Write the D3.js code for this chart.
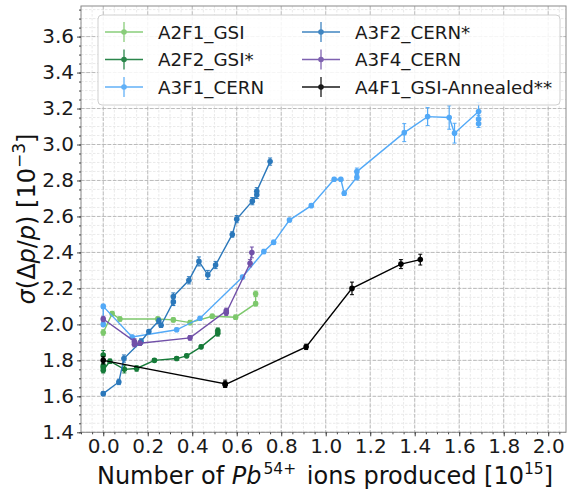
<!DOCTYPE html>
<html><head><meta charset="utf-8">
<script src="https://cdn.jsdelivr.net/npm/d3@7"></script>
<style>
html,body{margin:0;padding:0;background:#fff;}
svg text{font-family:"DejaVu Sans",sans-serif;}
</style></head>
<body>
<svg id="chart" width="567" height="491"></svg>
<script>
// ---------------- data ----------------
const seriesNames = ["A2F1_GSI","A2F2_GSI*","A3F1_CERN","A3F2_CERN*","A3F4_CERN","A4F1_GSI-Annealed**"];

const a2f1X = [0.0, 0.04, 0.075, 0.245, 0.315, 0.39, 0.49, 0.595, 0.685, 0.685];
const a2f1Y = [1.955, 2.06, 2.03, 2.03, 2.025, 2.01, 2.045, 2.04, 2.115, 2.17];
const a2f1E = [0.015, 0.012, 0.012, 0.012, 0.012, 0.012, 0.012, 0.012, 0.012, 0.015];

const a2f2X = [0.0, 0.0, 0.0, 0.0, 0.03, 0.095, 0.15, 0.23, 0.33, 0.375, 0.44, 0.515, 0.515];
const a2f2Y = [1.83, 1.77, 1.76, 1.745, 1.795, 1.75, 1.755, 1.80, 1.81, 1.825, 1.875, 1.95, 1.965];
const a2f2E = [0.025, 0.015, 0.015, 0.015, 0.012, 0.02, 0.015, 0.01, 0.01, 0.01, 0.01, 0.015, 0.015];

const a3f1X = [0.0, 0.0, 0.13, 0.33, 0.435, 0.626, 0.722, 0.766, 0.837, 0.935, 1.038, 1.068, 1.083, 1.14, 1.14, 1.353, 1.458, 1.555, 1.579, 1.687, 1.687, 1.687];
const a3f1Y = [2.0, 2.10, 1.93, 1.97, 2.034, 2.263, 2.405, 2.456, 2.58, 2.66, 2.807, 2.807, 2.729, 2.818, 2.849, 3.066, 3.155, 3.15, 3.063, 3.183, 3.142, 3.115];
const a3f1E = [0.012, 0.012, 0.01, 0.01, 0.01, 0.01, 0.012, 0.012, 0.01, 0.01, 0.01, 0.01, 0.012, 0.015, 0.02, 0.05, 0.05, 0.065, 0.055, 0.05, 0.02, 0.02];

const a3f2X = [0.0, 0.07, 0.093, 0.17, 0.205, 0.25, 0.26, 0.315, 0.315, 0.385, 0.43, 0.47, 0.505, 0.58, 0.60, 0.67, 0.69, 0.69, 0.75];
const a3f2Y = [1.615, 1.68, 1.81, 1.905, 1.96, 2.02, 1.995, 2.125, 2.155, 2.245, 2.35, 2.275, 2.33, 2.50, 2.585, 2.685, 2.72, 2.74, 2.905];
const a3f2E = [0.01, 0.015, 0.02, 0.015, 0.012, 0.015, 0.012, 0.02, 0.02, 0.02, 0.025, 0.025, 0.02, 0.015, 0.02, 0.02, 0.02, 0.02, 0.02];

const a3f4X = [0.0, 0.14, 0.14, 0.165, 0.39, 0.553, 0.553, 0.66, 0.668];
const a3f4Y = [2.03, 1.905, 1.89, 1.895, 1.925, 2.075, 2.065, 2.34, 2.40];
const a3f4E = [0.015, 0.015, 0.015, 0.012, 0.012, 0.015, 0.015, 0.02, 0.03];

const a4f1X = [0.0, 0.548, 0.548, 0.912, 1.118, 1.338, 1.425];
const a4f1Y = [1.80, 1.67, 1.665, 1.875, 2.20, 2.335, 2.36];
const a4f1E = [0.02, 0.02, 0.015, 0.015, 0.035, 0.025, 0.03];

const xMajorTicks = [0.0,0.2,0.4,0.6,0.8,1.0,1.2,1.4,1.6,1.8,2.0];
const yMajorTicks = [1.4,1.6,1.8,2.0,2.2,2.4,2.6,2.8,3.0,3.2,3.4,3.6];

// ---------------- drawing ----------------
const svg = d3.select("#chart");
const L = 81, R = 566, T = 6, B = 432.3;
const x = d3.scaleLinear().domain([-0.1, 2.08]).range([L, R]);
const y = d3.scaleLinear().domain([1.4, 3.77]).range([B, T]);

const xMinor = d3.range(-0.1, 2.08 + 1e-9, 0.05).map(v => +v.toFixed(2));
const yMinor = d3.range(1.4, 3.77 + 1e-9, 0.05).map(v => +v.toFixed(2));

// grid
const grid = svg.append("g");
grid.selectAll(".gxm").data(xMinor).enter().append("line")
  .attr("x1", d => x(d)).attr("x2", d => x(d)).attr("y1", T).attr("y2", B)
  .attr("stroke", "#e4e4e4").attr("stroke-width", 0.8).attr("stroke-dasharray", "2.5,1.5");
grid.selectAll(".gym").data(yMinor).enter().append("line")
  .attr("y1", d => y(d)).attr("y2", d => y(d)).attr("x1", L).attr("x2", R)
  .attr("stroke", "#e4e4e4").attr("stroke-width", 0.8).attr("stroke-dasharray", "2.5,1.5");
grid.selectAll(".gxM").data(xMajorTicks).enter().append("line")
  .attr("x1", d => x(d)).attr("x2", d => x(d)).attr("y1", T).attr("y2", B)
  .attr("stroke", "#b4b4b4").attr("stroke-width", 0.9).attr("stroke-dasharray", "3.7,1.6");
grid.selectAll(".gyM").data(yMajorTicks).enter().append("line")
  .attr("y1", d => y(d)).attr("y2", d => y(d)).attr("x1", L).attr("x2", R)
  .attr("stroke", "#b4b4b4").attr("stroke-width", 0.9).attr("stroke-dasharray", "3.7,1.6");

// frame
svg.append("rect").attr("x", L).attr("y", T).attr("width", R - L).attr("height", B - T)
  .attr("fill", "none").attr("stroke", "#8a8a8a").attr("stroke-width", 1);

// axes
const fmt = d3.format(".1f");
const gx = svg.append("g").attr("transform", `translate(0,${B})`)
  .call(d3.axisBottom(x).tickValues(xMajorTicks).tickFormat(fmt).tickSize(4).tickPadding(3));
const gxm = svg.append("g").attr("transform", `translate(0,${B})`)
  .call(d3.axisBottom(x).tickValues(xMinor).tickFormat("").tickSize(2));
const gy = svg.append("g").attr("transform", `translate(${L},0)`)
  .call(d3.axisLeft(y).tickValues(yMajorTicks).tickFormat(fmt).tickSize(4).tickPadding(3));
const gym = svg.append("g").attr("transform", `translate(${L},0)`)
  .call(d3.axisLeft(y).tickValues(yMinor).tickFormat("").tickSize(2));
[gx, gxm, gy, gym].forEach(g => {
  g.select(".domain").remove();
  g.selectAll(".tick line").attr("stroke", "#444");
  g.selectAll("text").attr("font-size", 20).attr("fill", "#1a1a1a")
    .attr("font-family", "'DejaVu Sans',sans-serif");
});

// series
const colors = ["#7dc86c", "#157a38", "#52a9f7", "#2b78bb", "#7150a8", "#000000"];
const seriesData = [
  [a2f1X, a2f1Y, a2f1E],
  [a2f2X, a2f2Y, a2f2E],
  [a3f1X, a3f1Y, a3f1E],
  [a3f2X, a3f2Y, a3f2E],
  [a3f4X, a3f4Y, a3f4E],
  [a4f1X, a4f1Y, a4f1E]
];
const line = d3.line().x(d => x(d.x)).y(d => y(d.y));
seriesData.forEach((s, i) => {
  const pts = s[0].map((v, k) => ({x: v, y: s[1][k], e: s[2][k]}));
  const g = svg.append("g");
  g.append("path").datum(pts).attr("d", line).attr("fill", "none")
    .attr("stroke", colors[i]).attr("stroke-width", 1.4);
  const eb = g.selectAll(".eb").data(pts).enter().append("g");
  eb.append("line").attr("x1", d => x(d.x)).attr("x2", d => x(d.x))
    .attr("y1", d => y(d.y - d.e)).attr("y2", d => y(d.y + d.e))
    .attr("stroke", colors[i]).attr("stroke-width", 1.2);
  eb.append("line").attr("x1", d => x(d.x) - 2).attr("x2", d => x(d.x) + 2)
    .attr("y1", d => y(d.y - d.e)).attr("y2", d => y(d.y - d.e))
    .attr("stroke", colors[i]).attr("stroke-width", 1);
  eb.append("line").attr("x1", d => x(d.x) - 2).attr("x2", d => x(d.x) + 2)
    .attr("y1", d => y(d.y + d.e)).attr("y2", d => y(d.y + d.e))
    .attr("stroke", colors[i]).attr("stroke-width", 1);
  g.selectAll("circle").data(pts).enter().append("circle")
    .attr("cx", d => x(d.x)).attr("cy", d => y(d.y)).attr("r", 2.8)
    .attr("fill", colors[i]);
});

// legend
const lg = svg.append("g");
lg.append("rect").attr("x", 98).attr("y", 15).attr("width", 462).attr("height", 90)
  .attr("rx", 4).attr("fill", "#fff").attr("fill-opacity", 0.85)
  .attr("stroke", "#d0d0d0").attr("stroke-width", 1);
const colX = [105, 302];
const rowY = [32, 59.5, 87];
seriesNames.forEach((name, i) => {
  const cx0 = colX[Math.floor(i / 3)], cy = rowY[i % 3];
  const mid = cx0 + 19;
  const item = lg.append("g").attr("opacity", 0.9);
  item.append("line").attr("x1", cx0).attr("x2", cx0 + 38).attr("y1", cy).attr("y2", cy)
    .attr("stroke", colors[i]).attr("stroke-width", 1.4);
  item.append("line").attr("x1", mid).attr("x2", mid).attr("y1", cy - 10).attr("y2", cy + 10)
    .attr("stroke", colors[i]).attr("stroke-width", 1.3);
  item.append("circle").attr("cx", mid).attr("cy", cy).attr("r", 2.8).attr("fill", colors[i]);
  lg.append("text").attr("x", cx0 + 53).attr("y", cy).attr("dy", "0.36em")
    .attr("font-size", 18.3).attr("fill", "#1a1a1a").text(name);
});

// x label
const xl = svg.append("text").attr("x", 325).attr("y", 484)
  .attr("text-anchor", "middle").attr("font-size", 24).attr("fill", "#111");
xl.append("tspan").text("Number of ");
xl.append("tspan").attr("font-style", "italic").text("Pb");
xl.append("tspan").attr("font-size", 15.5).attr("dx", 2).attr("dy", -10).text("54+");
xl.append("tspan").attr("dx", 3).attr("dy", 10).text(" ions produced [10");
xl.append("tspan").attr("font-size", 15.5).attr("dy", -10).text("15");
xl.append("tspan").attr("dy", 10).text("]");

// y label
const yl = svg.append("text").attr("transform", "translate(35,219) rotate(-90)")
  .attr("text-anchor", "middle").attr("font-size", 24).attr("fill", "#111");
yl.append("tspan").attr("font-style", "italic").text("σ");
yl.append("tspan").text("(Δ");
yl.append("tspan").attr("font-style", "italic").text("p");
yl.append("tspan").text("/");
yl.append("tspan").attr("font-style", "italic").text("p");
yl.append("tspan").text(") [10");
yl.append("tspan").attr("font-size", 17).attr("dy", -10).text("−3");
yl.append("tspan").attr("dy", 10).text("]");
</script>
</body></html>
